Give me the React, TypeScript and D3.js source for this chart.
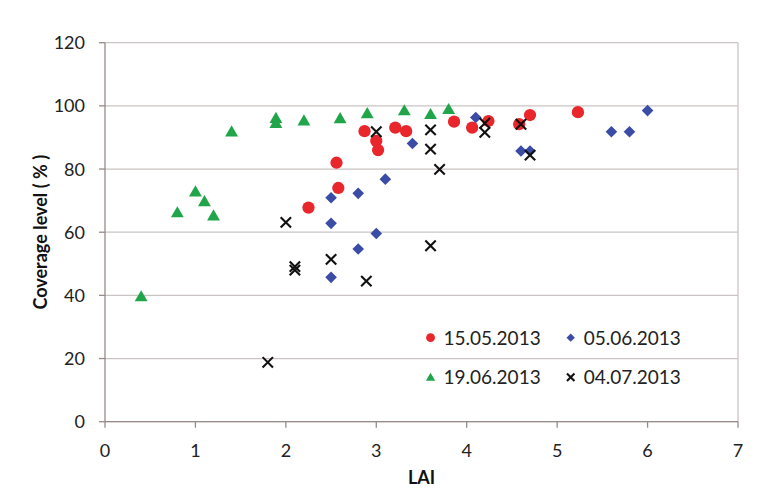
import React from 'react';
import { scaleLinear, range, symbol, symbolCircle, symbolTriangle } from 'd3';

// series values
const mayX = [2.25, 2.56, 2.58, 2.87, 3.0, 3.02, 3.21, 3.33, 3.86, 4.06, 4.24, 4.58, 4.7, 5.23];
const mayY = [67.8, 82, 74, 92, 88.9, 86, 93.1, 92, 95, 93.1, 95.2, 94.2, 97.1, 98];

const juneX = [2.5, 2.5, 2.5, 2.8, 2.8, 3.0, 3.1, 3.4, 4.1, 4.6, 4.7, 5.6, 5.8, 6.0];
const juneY = [70.9, 62.8, 45.7, 72.3, 54.7, 59.6, 76.8, 88.1, 96.3, 85.7, 85.7, 91.8, 91.8, 98.5];

const lateJuneX = [0.4, 0.8, 1.0, 1.1, 1.2, 1.4, 1.89, 1.89, 2.2, 2.6, 2.9, 3.31, 3.6, 3.8];
const lateJuneY = [39.6, 66.2, 72.8, 69.7, 65.2, 91.8, 96.1, 94.5, 95.3, 96, 97.6, 98.5, 97.3, 98.9];

const julyX = [1.8, 2.0, 2.1, 2.1, 2.5, 2.89, 3.0, 3.6, 3.6, 3.6, 3.7, 4.2, 4.2, 4.6, 4.7];
const julyY = [18.8, 63.1, 49.1, 48, 51.4, 44.5, 91.8, 92.4, 86.3, 55.7, 79.9, 94.5, 91.6, 94.2, 84.4];

const seriesNames = ['15.05.2013', '05.06.2013', '19.06.2013', '04.07.2013'];
const xTicks = range(0, 8, 1);
const yTicks = range(0, 140, 20);

const width = 763;
const height = 495;
const margin = { top: 42.7, right: 25, bottom: 73.3, left: 105 };
const innerWidth = width - margin.left - margin.right;
const innerHeight = height - margin.top - margin.bottom;

const font = 'Lato, "Open Sans", sans-serif';
const axisColor = '#958b88';
const gridColor = '#c9c4c2';

const colors = ['#e8262b', '#3b4ca6', '#21a54a', '#111111'];

const xScale = scaleLinear().domain([0, 7]).range([0, innerWidth]);
const yScale = scaleLinear().domain([0, 120]).range([innerHeight, 0]);

const Marker = ({ kind, x, y, big }: { kind: number; x: number; y: number; big: boolean }) => {
  const k = big ? 1 : 0.72;
  if (kind === 3) {
    const s = 5.2 * k;
    return (
      <path
        transform={`translate(${x},${y})`}
        d={`M${-s},${-s}L${s},${s}M${-s},${s}L${s},${-s}`}
        stroke={colors[3]}
        strokeWidth={2.1}
        fill="none"
      />
    );
  }
  if (kind === 1) {
    // square diamond, same width and height
    const r = 5.8 * k;
    return <path transform={`translate(${x},${y})`} d={`M0,${-r}L${r},0L0,${r}L${-r},0Z`} fill={colors[1]} />;
  }
  const types = [symbolCircle, symbolCircle, symbolTriangle];
  const sizes = [118, 0, 72];
  const path = symbol(types[kind], sizes[kind] * k * k)();
  return <path transform={`translate(${x},${y + (kind === 2 ? 1 : 0)})`} d={path || ''} fill={colors[kind]} />;
};

const App = () => {
  const series = [
    { xs: mayX, ys: mayY },
    { xs: juneX, ys: juneY },
    { xs: lateJuneX, ys: lateJuneY },
    { xs: julyX, ys: julyY },
  ];

  // legend positions in value space
  const legend = [
    { lx: 3.6, ly: 26.6 },
    { lx: 5.15, ly: 26.6 },
    { lx: 3.6, ly: 14.1 },
    { lx: 5.15, ly: 14.1 },
  ];

  return (
    <svg width={width} height={height} style={{ position: 'absolute', left: 0, top: 0, background: '#fff' }} fontFamily={font}>
      <g transform={`translate(${margin.left},${margin.top})`}>
        {/* grid lines */}
        {yTicks.map((t) => (
          <line key={t} x1={0} x2={innerWidth} y1={yScale(t)} y2={yScale(t)} stroke={gridColor} strokeWidth={1.3} />
        ))}
        <line x1={innerWidth} x2={innerWidth} y1={0} y2={innerHeight} stroke={gridColor} strokeWidth={1.3} />

        {/* axes */}
        <line x1={0} x2={0} y1={0} y2={innerHeight} stroke={axisColor} strokeWidth={1.3} />
        <line x1={0} x2={innerWidth} y1={innerHeight} y2={innerHeight} stroke={axisColor} strokeWidth={1.3} />

        {yTicks.map((t) => (
          <g key={t} transform={`translate(0,${yScale(t)})`}>
            <line x1={-6} x2={0} stroke={axisColor} strokeWidth={1.3} />
            <text x={-20} dy="0.36em" textAnchor="end" fontSize={18} fill="#222">
              {t}
            </text>
          </g>
        ))}
        {xTicks.map((t) => (
          <g key={t} transform={`translate(${xScale(t)},${innerHeight})`}>
            <line y1={0} y2={6} stroke={axisColor} strokeWidth={1.3} />
            <text y={35} textAnchor="middle" fontSize={18} fill="#222">
              {t}
            </text>
          </g>
        ))}

        {/* points */}
        {series.map((s, si) =>
          s.xs.map((xv, i) => <Marker key={`${si}-${i}`} kind={si} x={xScale(xv)} y={yScale(s.ys[i])} big={true} />)
        )}

        {/* legend */}
        {legend.map((l, i) => (
          <g key={i} transform={`translate(${xScale(l.lx)},${yScale(l.ly)})`}>
            <Marker kind={i} x={0} y={0} big={false} />
            <text x={13} dy="0.36em" fontSize={19} fill="#222">
              {seriesNames[i]}
            </text>
          </g>
        ))}
      </g>

      {/* axis titles */}
      <text
        transform={`translate(47,${margin.top + innerHeight / 2}) rotate(-90)`}
        textAnchor="middle"
        fontSize={18}
        fontWeight="bold"
        fill="#111"
      >
        Coverage level ( % )
      </text>
      <text x={margin.left + innerWidth / 2} y={484} textAnchor="middle" fontSize={18} fontWeight="bold" fill="#111">
        LAI
      </text>
    </svg>
  );
};

export default App;
